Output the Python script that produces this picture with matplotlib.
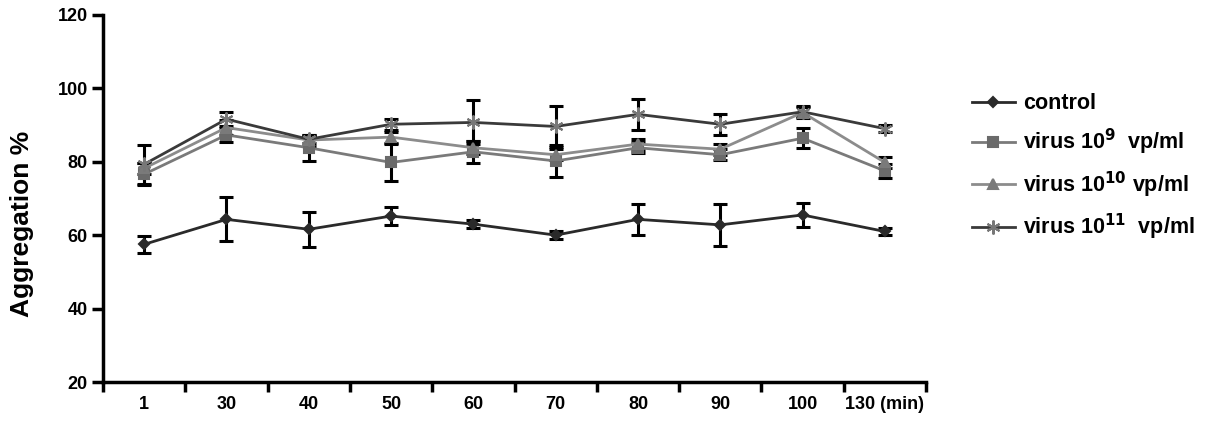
import numpy as np
import matplotlib
matplotlib.use('Agg')
import matplotlib.pyplot as plt

plt.rcParams['font.family'] = ['Liberation Sans', 'DejaVu Sans']

# time points (min)
times = ['1', '30', '40', '50', '60', '70', '80', '90', '100', '130 (min)']

# aggregation % and error bars
control = [57.5, 64.3, 61.6, 65.2, 63.0, 60.0, 64.3, 62.8, 65.5, 61.0]
control_err = [2.3, 6.0, 4.7, 2.5, 1.0, 1.0, 4.2, 5.7, 3.2, 1.0]

v9 = [76.6, 87.3, 83.8, 79.8, 82.7, 80.2, 83.8, 81.9, 86.4, 77.5]
v9_err = [3.0, 2.0, 3.6, 5.0, 3.0, 4.3, 1.5, 1.5, 2.8, 1.8]

v10 = [78.2, 89.3, 85.9, 86.7, 83.8, 81.9, 84.8, 83.4, 93.4, 79.8]
v10_err = [1.5, 2.0, 1.5, 1.5, 1.8, 1.5, 1.5, 1.5, 1.5, 1.5]

v11 = [79.3, 91.6, 86.1, 90.2, 90.7, 89.6, 92.9, 90.2, 93.6, 89.0]
v11_err = [5.3, 2.0, 1.0, 1.5, 6.0, 5.5, 4.3, 2.8, 1.5, 1.0]

labels = ['control',
          r'virus 10$^{\mathbf{9}}$  vp/ml',
          r'virus 10$^{\mathbf{10}}$ vp/ml',
          r'virus 10$^{\mathbf{11}}$  vp/ml']

fig = plt.figure(figsize=(12.05, 4.24), dpi=100)
ax = fig.add_axes([0.0855, 0.099, 0.683, 0.866])

x = np.arange(len(times))

series = [
    (control, control_err, '#2a2a2a', 'D', 5, '#2a2a2a'),
    (v9, v9_err, '#7a7a7a', 's', 7, '#6a6a6a'),
    (v10, v10_err, '#8c8c8c', '^', 7, '#7a7a7a'),
    (v11, v11_err, '#3a3a3a', (6, 2, 0), 10, '#777777'),
]

for (vals, err, col, mk, ms, mcol), lab in zip(series, labels):
    ax.errorbar(x, vals, yerr=err, fmt='none', ecolor='black', elinewidth=2.2,
                capsize=5, capthick=2.2, zorder=2)
    ax.plot(x, vals, color=col, lw=2, marker=mk, ms=ms, mfc=mcol, mec=mcol,
            mew=1.5, label=lab, zorder=3)

ax.set_xlim(-0.5, 9.5)
ax.set_ylim(20, 120)
ax.set_yticks([20, 40, 60, 80, 100, 120])
ax.set_xticks(x)
ax.set_xticklabels(times)
ax.set_xticks(np.arange(-0.5, 10, 1), minor=True)

for sp in ['top', 'right']:
    ax.spines[sp].set_visible(False)
for sp in ['left', 'bottom']:
    ax.spines[sp].set_linewidth(2.5)

ax.tick_params(axis='x', which='major', length=0, pad=10)
ax.tick_params(axis='x', which='minor', length=7, width=2.5, direction='out')
ax.tick_params(axis='y', length=8, width=2.5, pad=3)
for t in ax.get_xticklabels() + ax.get_yticklabels():
    t.set_fontsize(13)
    t.set_fontweight('bold')

ax.set_ylabel('Aggregation %', fontsize=19, fontweight='bold')
ax.yaxis.set_label_coords(-0.084, 0.43)

leg = ax.legend(loc='upper left', bbox_to_anchor=(1.045, 0.81), frameon=False,
                prop={'size': 15.5, 'weight': 'bold'}, handlelength=2.0,
                labelspacing=0.58, handletextpad=0.4, borderaxespad=0)

fig.savefig('out.png', dpi=100)
